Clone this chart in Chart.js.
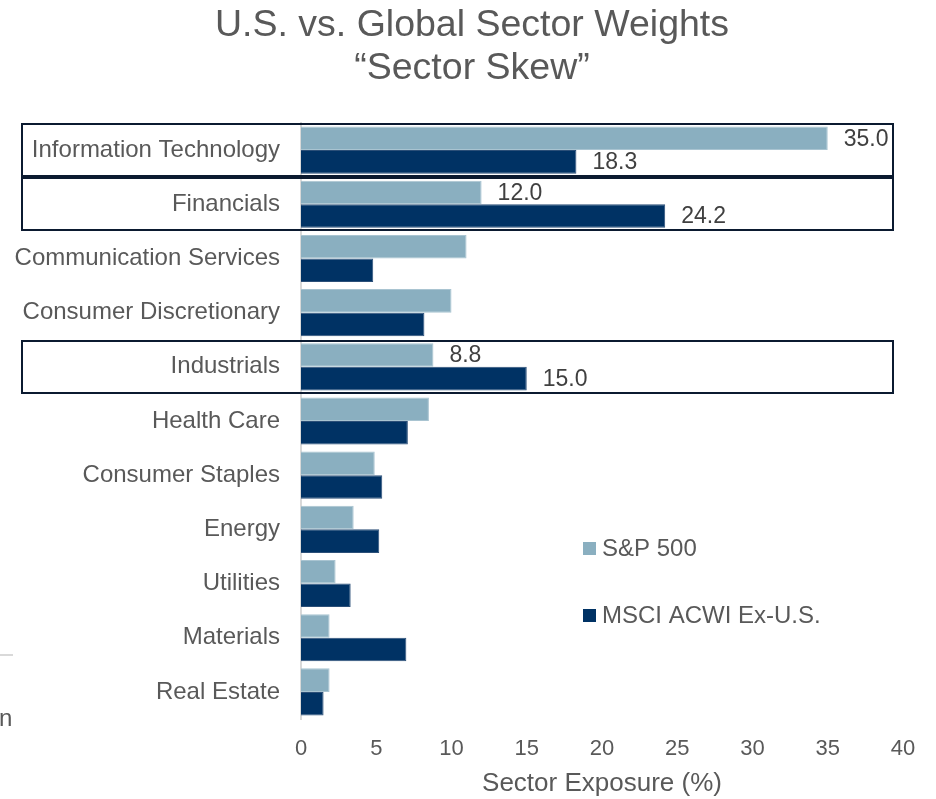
<!DOCTYPE html>
<html>
<head>
<meta charset="utf-8">
<script src="https://cdn.jsdelivr.net/npm/chart.js@4/dist/chart.umd.min.js"></script>
<style>
  html, body { margin: 0; padding: 0; background: #ffffff; }
  #wrap { position: relative; width: 936px; height: 799px; overflow: hidden; }
  canvas { display: block; }
</style>
</head>
<body>
<div id="wrap"><canvas id="c" width="936" height="799"></canvas></div>
<script>
const categories = [
  "Information Technology", "Financials", "Communication Services",
  "Consumer Discretionary", "Industrials", "Health Care",
  "Consumer Staples", "Energy", "Utilities", "Materials", "Real Estate"
];
const sp500 = [35.0, 12.0, 11.0, 10.0, 8.8, 8.5, 4.9, 3.5, 2.3, 1.9, 1.9];
const acwiExUS = [18.3, 24.2, 4.8, 8.2, 15.0, 7.1, 5.4, 5.2, 3.3, 7.0, 1.5];
const seriesNames = ["S&P 500", "MSCI ACWI Ex-U.S."];
const highlighted = ["Information Technology", "Financials", "Industrials"];
const xTicks = [0, 5, 10, 15, 20, 25, 30, 35, 40];
const titleLines = ["U.S. vs. Global Sector Weights", "\u201CSector Skew\u201D"];
const xAxisTitle = "Sector Exposure (%)";

const FONT = "'Liberation Sans', Arial, Helvetica, sans-serif";
const GRAY = "#595959";
const LIGHT = "#8aafc0";
const DARK = "#003264";

const extras = {
  id: "extras",
  afterDraw(chart) {
    const ctx = chart.ctx;
    const y = chart.scales.y;
    ctx.save();
    // title
    ctx.fillStyle = GRAY;
    ctx.font = "37.5px " + FONT;
    ctx.textAlign = "center";
    ctx.textBaseline = "middle";
    ctx.fillText(titleLines[0], 472, 26);
    ctx.fillText(titleLines[1], 472, 69);

    // highlight boxes
    const step = y.getPixelForValue(1) - y.getPixelForValue(0);
    ctx.strokeStyle = "#0b1a30";
    ctx.lineWidth = 2;
    highlighted.forEach(name => {
      const i = categories.indexOf(name);
      const cy = y.getPixelForValue(i);
      const top = Math.round(cy - step / 2) + 1;
      const bot = Math.round(cy + step / 2) - 1;
      ctx.strokeRect(22, top, 893 - 22, bot - top);
    });

    // data labels for highlighted categories
    ctx.fillStyle = "#404040";
    ctx.font = "23px " + FONT;
    ctx.textAlign = "left";
    ctx.textBaseline = "middle";
    chart.data.datasets.forEach((ds, di) => {
      const meta = chart.getDatasetMeta(di);
      highlighted.forEach(name => {
        const i = categories.indexOf(name);
        const el = meta.data[i];
        ctx.fillText(ds.data[i].toFixed(1), el.x + 16, el.y + 1);
      });
    });

    // legend
    const legendY = [548, 615];
    const legendColors = [LIGHT, DARK];
    ctx.font = "24px " + FONT;
    seriesNames.forEach((n, k) => {
      ctx.fillStyle = legendColors[k];
      ctx.fillRect(583, legendY[k] - 6, 13, 13);
      ctx.fillStyle = GRAY;
      ctx.fillText(n, 602, legendY[k] + 1);
    });

    // cropped remnants at left edge
    ctx.fillStyle = "#d9d9d9";
    ctx.fillRect(0, 654, 13, 2);
    ctx.fillStyle = GRAY;
    ctx.font = "24px " + FONT;
    ctx.fillText("n", -1, 719);
    ctx.restore();
  }
};

new Chart(document.getElementById("c"), {
  type: "bar",
  data: {
    labels: categories,
    datasets: [
      { label: seriesNames[0], data: sp500, backgroundColor: LIGHT, borderColor: "#a9c4d1", borderWidth: 1 },
      { label: seriesNames[1], data: acwiExUS, backgroundColor: DARK, borderColor: "#2b4f78", borderWidth: 1 }
    ]
  },
  options: {
    indexAxis: "y",
    responsive: false,
    animation: false,
    devicePixelRatio: 1,
    layout: { padding: { top: 123, right: 33, bottom: 0, left: 0 } },
    datasets: { bar: { categoryPercentage: 0.87, barPercentage: 1.0 } },
    plugins: { legend: { display: false }, tooltip: { enabled: false }, title: { display: false } },
    scales: {
      x: {
        type: "linear",
        min: xTicks[0],
        max: xTicks[xTicks.length - 1],
        afterBuildTicks(scale) { scale.ticks = xTicks.map(v => ({ value: v })); },
        afterFit(scale) { scale.height = 80; },
        grid: { display: false, drawTicks: false },
        border: { display: false },
        ticks: { color: GRAY, font: { family: FONT, size: 22 }, padding: 17 },
        title: { display: true, text: xAxisTitle, color: GRAY, font: { family: FONT, size: 26 }, padding: { top: 0, bottom: 0 } }
      },
      y: {
        afterFit(scale) { scale.width = 301; },
        grid: { display: false, drawTicks: false },
        border: { display: true, color: "#d9d9d9", width: 2 },
        ticks: { color: GRAY, font: { family: FONT, size: 24 }, padding: 21, autoSkip: false }
      }
    }
  },
  plugins: [extras]
});
</script>
</body>
</html>
